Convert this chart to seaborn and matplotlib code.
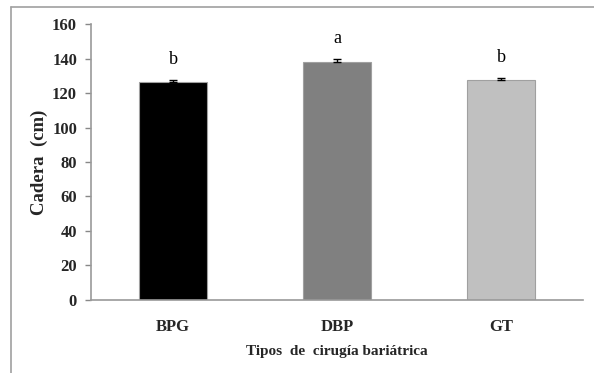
import matplotlib
matplotlib.use("Agg")
import matplotlib.pyplot as plt
from matplotlib.lines import Line2D
import seaborn as sns

# Hip circumference by type of bariatric surgery
categories = ["BPG", "DBP", "GT"]
means = [126.6, 138.2, 127.8]
errors = [1.0, 1.6, 0.8]
letters = ["b", "a", "b"]
bar_colors = ["#000000", "#808080", "#C0C0C0"]
yticks = [0, 20, 40, 60, 80, 100, 120, 140, 160]

sns.set_theme(style="white")
plt.rcParams["font.family"] = ["Liberation Serif", "DejaVu Serif"]

W, H = 594, 373
fig = plt.figure(figsize=(W / 100, H / 100), dpi=100)
ax = fig.add_axes([91 / W, 1 - 299.5 / H, (583 - 91) / W, (299.5 - 24.3) / H])

sns.barplot(x=categories, y=means, hue=categories, palette=bar_colors,
            legend=False, width=0.41, edgecolor="#A0A0A0", linewidth=0.8,
            saturation=1, ax=ax)

xpos = list(range(len(categories)))
ax.errorbar(xpos, means, yerr=[[0] * len(errors), errors], fmt="none",
            ecolor="black", elinewidth=1.0, capsize=2.8, capthick=1.0, zorder=5)

for x, m, e, lab in zip(xpos, means, errors, letters):
    ax.text(x, m + e + 7, lab, ha="center", va="bottom", fontsize=13,
            color="black")

ax.set_xlim(-0.5, 2.5)
ax.set_ylim(0, 160)
ax.set_yticks(yticks)
ax.set_yticklabels([str(t) for t in yticks], fontsize=12, fontweight="bold")
ax.set_xticks(xpos)
ax.set_xticklabels(categories, fontsize=12, fontweight="bold")
ax.tick_params(axis="y", which="major", left=True, length=4, width=1,
               color="#888888", pad=6)
ax.tick_params(axis="x", bottom=False, pad=8)

for side in ["top", "right"]:
    ax.spines[side].set_visible(False)
for side in ["left", "bottom"]:
    ax.spines[side].set_color("#999999")
    ax.spines[side].set_linewidth(1.2)

ax.set_ylabel("Cadera  (cm)", fontsize=13.5, fontweight="bold", labelpad=3)
ax.set_xlabel("Tipos  de  cirugía bariátrica", fontsize=11, fontweight="bold",
              labelpad=7)

# Outer chart frame (left and top edges)
fig.add_artist(Line2D([10.5 / W, 10.5 / W], [0, 1 - 6.5 / H],
                      transform=fig.transFigure, color="#A0A0A0", lw=1.2))
fig.add_artist(Line2D([10.5 / W, 1], [1 - 6.5 / H, 1 - 6.5 / H],
                      transform=fig.transFigure, color="#A0A0A0", lw=1.2))

fig.savefig("out.png", dpi=100, facecolor="white")
